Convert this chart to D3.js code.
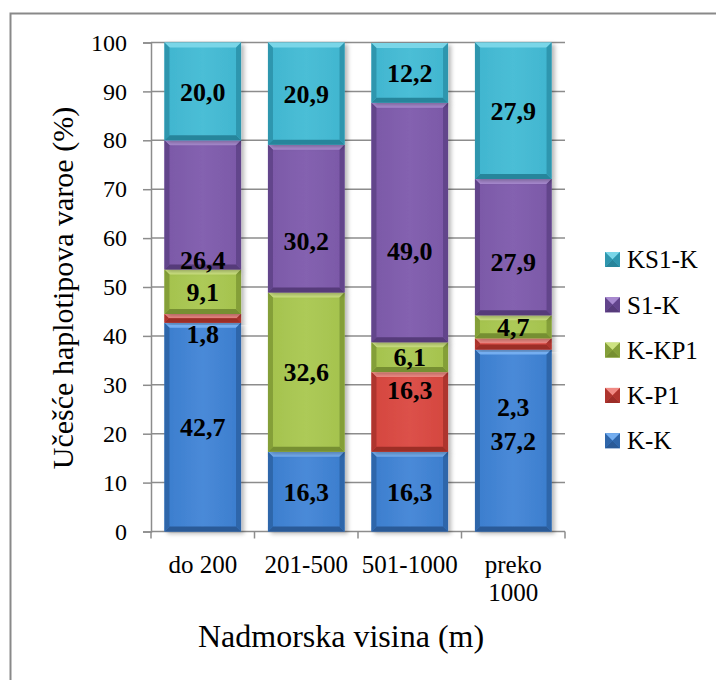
<!DOCTYPE html>
<html>
<head>
<meta charset="utf-8">
<script src="https://cdn.jsdelivr.net/npm/d3@7"></script>
<style>
  html, body { margin: 0; padding: 0; background: #fff; }
  svg { display: block; }
</style>
</head>
<body>
<svg id="chart" width="716" height="680"></svg>
<script>
// Altitude classes and haplotype shares (%)
const categories = ["do 200", "201-500", "501-1000", "preko 1000"];
const seriesNames = ["K-K", "K-P1", "K-KP1", "S1-K", "KS1-K"];
const kk   = [42.7, 16.3, 16.3, 37.2];
const kp1  = [1.8, 0, 16.3, 2.3];
const kkp1 = [9.1, 32.6, 6.1, 4.7];
const s1k  = [26.4, 30.2, 49.0, 27.9];
const ks1k = [20.0, 20.9, 12.2, 27.9];
const yTicks = [0, 10, 20, 30, 40, 50, 60, 70, 80, 90, 100];

const seriesValues = [kk, kp1, kkp1, s1k, ks1k];
const FONT = '"Liberation Serif"';

// face / top bevel / side bevel / bottom bevel
const palette = {
  "K-K":   { face: "#3b7dcd", light: "#4a8ad8", top: "#74aef0", side: "#2f66aa", bottom: "#2a5a97" },
  "K-P1":  { face: "#d4463f", light: "#dc5149", top: "#f08a84", side: "#ae342e", bottom: "#9c2d28" },
  "K-KP1": { face: "#a4c24d", light: "#adca58", top: "#cde381", side: "#849f39", bottom: "#768f31" },
  "S1-K":  { face: "#7b58a7", light: "#8462b0", top: "#a88ad0", side: "#62448b", bottom: "#563b7a" },
  "KS1-K": { face: "#40b5cf", light: "#4bbed6", top: "#7ad6e8", side: "#2f96ae", bottom: "#28859b" }
};

// hand-placed label nudges (px, downward) for crowded segments
const labelNudge = {
  "S1-K|do 200": 55, "S1-K|201-500": 22, "S1-K|501-1000": 28, "S1-K|preko 1000": 15,
  "K-P1|do 200": 16, "K-P1|501-1000": -22, "K-P1|preko 1000": 63
};

const svg = d3.select("#chart");

// outer chart frame
svg.append("rect")
  .attr("x", 10.5).attr("y", 13.5)
  .attr("width", 720).attr("height", 700)
  .attr("fill", "none").attr("stroke", "#898989").attr("stroke-width", 2);

const plot = { left: 151, right: 565, top: 42.5, bottom: 531.5 };

const x = d3.scaleBand().domain(categories)
  .range([plot.left, plot.right]).paddingInner(0.26).paddingOuter(0.13);
const y = d3.scaleLinear().domain([0, 100]).range([plot.bottom, plot.top]);

// gridlines
svg.append("g").selectAll("line").data(yTicks.filter(d => d > 0)).join("line")
  .attr("x1", plot.left).attr("x2", plot.right)
  .attr("y1", d => y(d)).attr("y2", d => y(d))
  .attr("stroke", "#8c8c8c").attr("stroke-width", 1.5);

// y axis
const yAxis = svg.append("g").attr("transform", `translate(${plot.left},0)`)
  .call(d3.axisLeft(y).tickValues(yTicks).tickSize(8).tickPadding(16).tickFormat(d3.format("d")));
yAxis.select(".domain").attr("stroke", "#8c8c8c").attr("stroke-width", 1.5);
yAxis.selectAll(".tick line").attr("stroke", "#8c8c8c").attr("stroke-width", 1.5);
yAxis.selectAll(".tick text").attr("fill", "#000")
  .style("font-family", FONT).style("font-size", "24px");

// x axis line with boundary ticks
const boundaries = d3.range(categories.length + 1).map(i => plot.left + i * (plot.right - plot.left) / categories.length);
svg.append("line").attr("x1", plot.left).attr("x2", plot.right)
  .attr("y1", plot.bottom).attr("y2", plot.bottom)
  .attr("stroke", "#8c8c8c").attr("stroke-width", 1.5);
svg.append("g").selectAll("line").data(boundaries).join("line")
  .attr("x1", d => d).attr("x2", d => d)
  .attr("y1", plot.bottom).attr("y2", plot.bottom + 7)
  .attr("stroke", "#8c8c8c").attr("stroke-width", 1.5);

// category labels ("preko 1000" wraps onto two lines)
const catG = svg.append("g");
categories.forEach(c => {
  const cx = x(c) + x.bandwidth() / 2;
  const lines = c === "preko 1000" ? ["preko", "1000"] : [c];
  const t = catG.append("text").attr("text-anchor", "middle").attr("fill", "#000")
    .style("font-family", FONT).style("font-size", "25px");
  lines.forEach((l, i) => t.append("tspan").attr("x", cx).attr("y", 573 + i * 28).text(l));
});

// stacked segments
const defs = svg.append("defs");
const shadow = defs.append("filter").attr("id", "shadow")
  .attr("x", "-20%").attr("y", "-20%").attr("width", "140%").attr("height", "140%");
shadow.append("feDropShadow").attr("dx", 3).attr("dy", 2).attr("stdDeviation", 2)
  .attr("flood-color", "#000").attr("flood-opacity", 0.28);

seriesNames.forEach(name => {
  const col = palette[name];
  const gr = defs.append("linearGradient").attr("id", "face-" + name)
    .attr("x1", "0").attr("x2", "1").attr("y1", "0").attr("y2", "0");
  gr.append("stop").attr("offset", "0").attr("stop-color", col.face);
  gr.append("stop").attr("offset", "0.5").attr("stop-color", col.light);
  gr.append("stop").attr("offset", "1").attr("stop-color", col.face);
});

const rows = categories.map((c, i) => {
  const r = { cat: c };
  seriesNames.forEach((s, k) => r[s] = seriesValues[k][i]);
  return r;
});
const stack = d3.stack().keys(seriesNames)(rows);
const poly = pts => pts.map(p => p.join(",")).join(" ");

const barsG = svg.append("g");
stack.forEach(layer => {
  const name = layer.key;
  const col = palette[name];
  layer.forEach(seg => {
    const v = seg[1] - seg[0];
    if (v <= 0) return;
    const x0 = x(seg.data.cat), x1 = x0 + x.bandwidth();
    const y0 = y(seg[1]), y1 = y(seg[0]);
    const h = y1 - y0;
    const b = Math.min(5, h / 2);
    const g = barsG.append("g").attr("filter", "url(#shadow)");
    g.append("rect").attr("x", x0).attr("y", y0).attr("width", x1 - x0).attr("height", h)
      .attr("fill", `url(#face-${name})`);
    g.append("polygon").attr("points", poly([[x0, y0], [x1, y0], [x1 - b, y0 + b], [x0 + b, y0 + b]])).attr("fill", col.top);
    g.append("polygon").attr("points", poly([[x0, y1], [x1, y1], [x1 - b, y1 - b], [x0 + b, y1 - b]])).attr("fill", col.bottom);
    g.append("polygon").attr("points", poly([[x0, y0], [x0 + b, y0 + b], [x0 + b, y1 - b], [x0, y1]])).attr("fill", col.side);
    g.append("polygon").attr("points", poly([[x1, y0], [x1 - b, y0 + b], [x1 - b, y1 - b], [x1, y1]])).attr("fill", col.side);
  });
});

// value labels
const labelG = svg.append("g");
stack.forEach(layer => {
  layer.forEach(seg => {
    const v = seg[1] - seg[0];
    if (v <= 0) return;
    const key = layer.key + "|" + seg.data.cat;
    const cy = y((seg[0] + seg[1]) / 2) + (labelNudge[key] || 0);
    labelG.append("text")
      .attr("x", x(seg.data.cat) + x.bandwidth() / 2)
      .attr("y", cy).attr("dy", "0.35em")
      .attr("text-anchor", "middle").attr("fill", "#000")
      .style("font-family", FONT).style("font-size", "26px").style("font-weight", "bold")
      .text(d3.format(".1f")(v).replace(".", ","));
  });
});

// axis titles
svg.append("text").attr("transform", "translate(62,288) rotate(-90)")
  .attr("dy", "0.35em").attr("text-anchor", "middle").attr("fill", "#000")
  .style("font-family", FONT).style("font-size", "30px")
  .text("Učešće haplotipova varoe (%)");
svg.append("text").attr("x", 341).attr("y", 647)
  .attr("text-anchor", "middle").attr("fill", "#000")
  .style("font-family", FONT).style("font-size", "32px")
  .text("Nadmorska visina (m)");

// legend (top entry is the top of the stack)
const legendItems = seriesNames.slice().reverse();
const lg = svg.append("g");
legendItems.forEach((name, i) => {
  const cy = 259.5 + i * 45.3;
  const col = palette[name];
  const s = 15, lx = 605, ly = cy - s / 2;
  const g = lg.append("g");
  g.append("rect").attr("x", lx).attr("y", ly).attr("width", s).attr("height", s).attr("fill", col.face);
  g.append("polygon").attr("points", poly([[lx, ly], [lx + s, ly], [lx + s / 2, ly + s / 2]])).attr("fill", col.top);
  g.append("polygon").attr("points", poly([[lx, ly + s], [lx + s, ly + s], [lx + s / 2, ly + s / 2]])).attr("fill", col.bottom);
  g.append("polygon").attr("points", poly([[lx, ly], [lx, ly + s], [lx + s / 2, ly + s / 2]])).attr("fill", col.side);
  g.append("polygon").attr("points", poly([[lx + s, ly], [lx + s, ly + s], [lx + s / 2, ly + s / 2]])).attr("fill", col.side);
  lg.append("text").attr("x", 627).attr("y", cy).attr("dy", "0.35em").attr("fill", "#000")
    .style("font-family", FONT).style("font-size", "25px").text(name);
});
</script>
</body>
</html>
